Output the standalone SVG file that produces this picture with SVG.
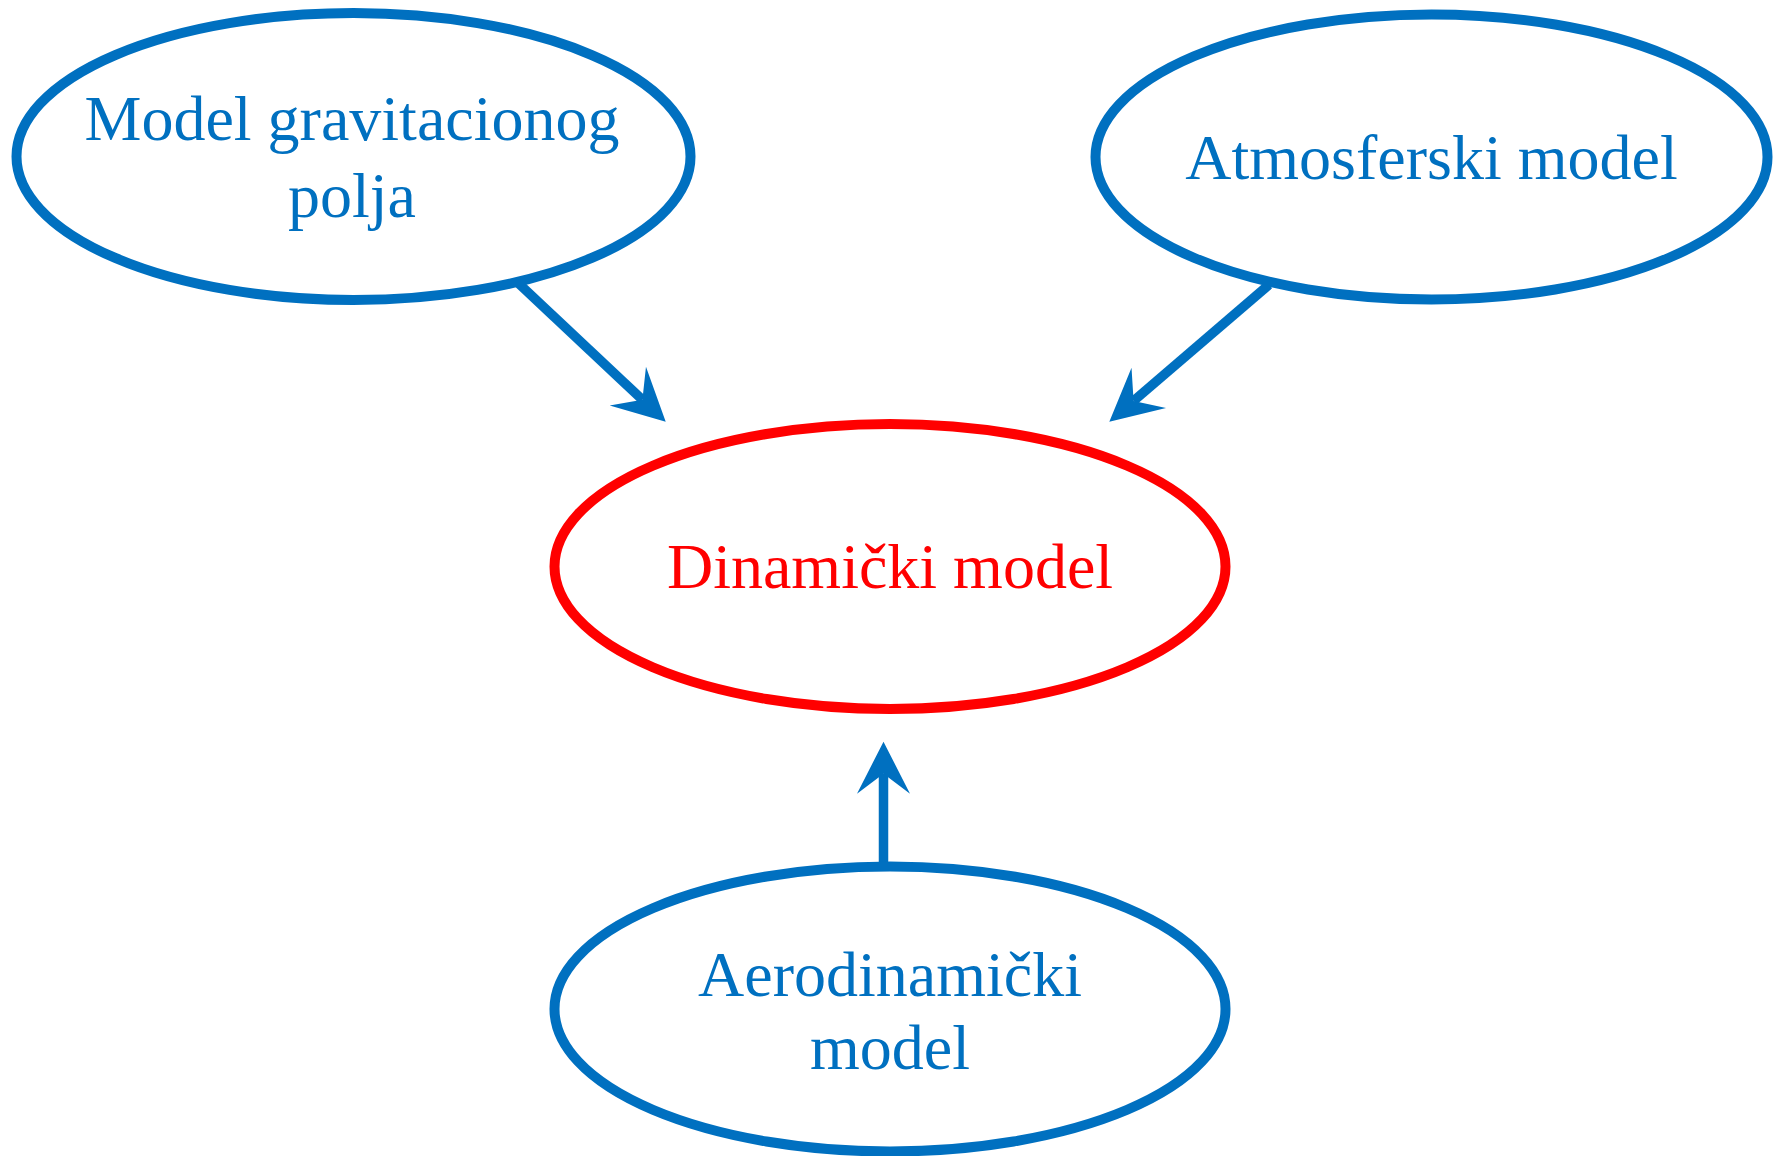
<svg xmlns="http://www.w3.org/2000/svg" width="1783" height="1156" viewBox="0 0 1783 1156">
<style>
.node{fill:#fff;stroke-width:10}
.blue{stroke:#0070C0}
.red{stroke:#FF0000}
.t{font-family:"Liberation Serif","Times New Roman",serif;font-size:64px;text-anchor:middle}
.tb{fill:#0070C0}
.tr{fill:#FF0000}
.conn{stroke:#0070C0;stroke-width:9.5;fill:none}
</style>
<defs>
<marker id="ah" viewBox="-60 -30 62 60" markerWidth="62" markerHeight="60" refX="-32" refY="0" orient="auto" markerUnits="userSpaceOnUse">
<path d="M0,0 L-52,-26.5 L-32,0 L-52,26.5 Z" fill="#0070C0"/>
</marker>
</defs>
<g id="connectors">
<line class="conn" x1="516" y1="281" x2="642.4" y2="399.8" marker-end="url(#ah)"/>
<line class="conn" x1="1269" y1="284.7" x2="1133.6" y2="400.9" marker-end="url(#ah)"/>
<line class="conn" x1="883.5" y1="868" x2="883.5" y2="773.7" marker-end="url(#ah)"/>
</g>
<g id="gravity">
<ellipse class="node blue" cx="353.5" cy="156.5" rx="337" ry="143.5"/>
<text class="t tb" x="352" y="140">Model gravitacionog</text>
<text class="t tb" x="352" y="217">polja</text>
</g>
<g id="atmosphere">
<ellipse class="node blue" cx="1431.5" cy="157" rx="336" ry="142.5"/>
<text class="t tb" x="1431.5" y="178.5">Atmosferski model</text>
</g>
<g id="dynamic">
<ellipse class="node red" cx="890" cy="566.5" rx="335.5" ry="142.5"/>
<text class="t tr" x="890" y="588">Dinamički model</text>
</g>
<g id="aero">
<ellipse class="node blue" cx="890" cy="1009" rx="335.5" ry="142.5"/>
<text class="t tb" x="890" y="996">Aerodinamički</text>
<text class="t tb" x="890" y="1069">model</text>
</g>
</svg>
